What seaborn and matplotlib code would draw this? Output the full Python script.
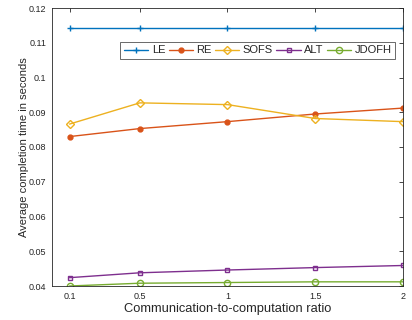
import matplotlib
matplotlib.use("Agg")
import matplotlib.pyplot as plt
import seaborn as sns
import pandas as pd

ratios = [0.1, 0.5, 1, 1.5, 2]
le = [0.1143, 0.1143, 0.1143, 0.1143, 0.1143]
re = [0.0830, 0.0853, 0.0873, 0.0895, 0.0912]
sofs = [0.0866, 0.0927, 0.0922, 0.0882, 0.0873]
alt = [0.0424, 0.0438, 0.0446, 0.0453, 0.0459]
jdofh = [0.0400, 0.0408, 0.0410, 0.0412, 0.0412]

series = {"LE": le, "RE": re, "SOFS": sofs, "ALT": alt, "JDOFH": jdofh}
colors = {"LE": "#0072BD", "RE": "#D95319", "SOFS": "#EDB120",
          "ALT": "#7E2F8E", "JDOFH": "#77AC30"}
markers = {"LE": "+", "RE": "o", "SOFS": "D", "ALT": "s", "JDOFH": "o"}
filled = {"LE": True, "RE": True, "SOFS": False, "ALT": False, "JDOFH": False}
msize = {"LE": 5, "RE": 3.5, "SOFS": 4, "ALT": 3.5, "JDOFH": 4.5}

df = pd.DataFrame([
    {"ratio": r, "time": v, "method": name}
    for name, vals in series.items() for r, v in zip(ratios, vals)
])

sns.set_style("white")
plt.rcParams["font.family"] = ["Liberation Sans", "DejaVu Sans"]

fig = plt.figure(figsize=(4.12, 3.2), dpi=100)
ax = fig.add_axes([52 / 412, 1 - 286 / 320, (403 - 52) / 412, (286 - 8) / 320])

for name in series:
    sub = df[df["method"] == name]
    sns.lineplot(data=sub, x="ratio", y="time", ax=ax, color=colors[name],
                 marker=markers[name], markersize=msize[name], linewidth=1.0,
                 markeredgecolor=colors[name],
                 markerfacecolor=colors[name] if filled[name] else "none",
                 markeredgewidth=1.0, label=name)

ax.set_xlim(0, 2)
ax.set_ylim(0.04, 0.12)
ax.set_xticks(ratios)
ax.set_xticklabels(["0.1", "0.5", "1", "1.5", "2"])
ax.set_yticks([0.04, 0.05, 0.06, 0.07, 0.08, 0.09, 0.1, 0.11, 0.12])
ax.set_yticklabels(["0.04", "0.05", "0.06", "0.07", "0.08", "0.09", "0.1", "0.11", "0.12"])
ax.tick_params(direction="in", length=3, width=0.6, labelsize=6.5,
               colors="#262626", top=True, right=True, pad=4)
for s in ax.spines.values():
    s.set_color("#262626")
    s.set_linewidth(0.6)
ax.set_xlabel("Communication-to-computation ratio", fontsize=9.3, color="#262626", labelpad=2)
ax.set_ylabel("Average completion time in seconds", fontsize=8, color="#262626", labelpad=0)

leg = ax.legend(loc="upper right", bbox_to_anchor=(0.9775, 0.878), ncol=5, fontsize=8,
                frameon=True, fancybox=False, edgecolor="#262626", handlelength=2.2,
                handletextpad=0.3, columnspacing=0.3, borderpad=0.32, borderaxespad=0)
leg.get_frame().set_linewidth(0.6)

fig.savefig("out.png", dpi=100)
